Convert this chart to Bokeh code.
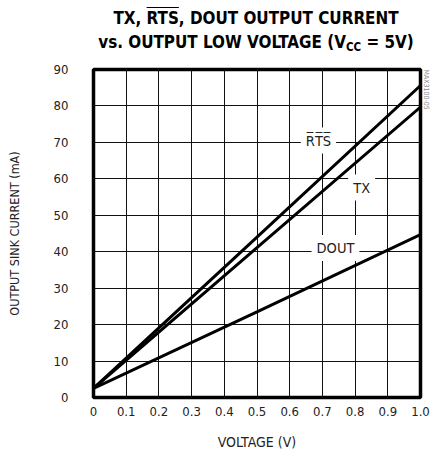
from bokeh.plotting import figure
from bokeh.models import Label, FixedTicker, Range1d, Div, Title
from bokeh.layouts import column
from bokeh.embed import file_html
from bokeh.resources import INLINE

voltage = [0.0, 0.5, 1.0]
rts_current = [2.5, 44.0, 85.6]
tx_current = [2.5, 41.1, 79.7]
dout_current = [2.5, 23.5, 44.7]

x_ticks = [0, 0.1, 0.2, 0.3, 0.4, 0.5, 0.6, 0.7, 0.8, 0.9, 1.0]
x_tick_labels = ["0", "0.1", "0.2", "0.3", "0.4", "0.5", "0.6", "0.7", "0.8", "0.9", "1.0"]
y_ticks = [0, 10, 20, 30, 40, 50, 60, 70, 80, 90]

FONT = "DejaVu Sans Condensed"
TXT = "#222222"

title_html = (
    '<div style="font-family:\'DejaVu Sans Condensed\',\'DejaVu Sans\';font-stretch:condensed;'
    'font-weight:bold;font-size:16.9px;line-height:24px;text-align:center;color:#000;'
    'padding-left:73px;padding-top:6px;box-sizing:border-box;width:439px;">'
    'TX, <span style="text-decoration:overline">RTS</span>, DOUT OUTPUT CURRENT<br>'
    'vs. OUTPUT LOW VOLTAGE (V<span style="font-size:11.5px;position:relative;top:3px">CC</span> = 5V)'
    '</div>'
)
header = Div(text=title_html, width=439, height=60, margin=0)

p = figure(width=439, height=400, x_range=Range1d(0, 1), y_range=Range1d(0, 90),
           output_backend="svg", toolbar_location=None, margin=0,
           min_border_left=93, min_border_right=19, min_border_top=9, min_border_bottom=63)

p.outline_line_color = "black"
p.outline_line_width = 3.5
p.background_fill_color = "white"

for ax in (p.xaxis[0], p.yaxis[0]):
    ax.axis_line_color = None
    ax.major_tick_line_color = None
    ax.minor_tick_line_color = None
    ax.major_tick_out = 0
    ax.major_tick_in = 0
    ax.minor_tick_out = 0
    ax.minor_tick_in = 0
    ax.major_label_text_font = FONT
    ax.major_label_text_font_size = "13px"
    ax.major_label_text_color = TXT
    ax.axis_label_text_font = FONT
    ax.axis_label_text_font_style = "normal"
    ax.axis_label_text_color = TXT

p.xaxis.axis_label_text_font_size = "14px"
p.yaxis.axis_label_text_font_size = "12.5px"
p.xaxis.ticker = FixedTicker(ticks=x_ticks)
p.xaxis.major_label_overrides = {t: l for t, l in zip(x_ticks, x_tick_labels)}
p.yaxis.ticker = FixedTicker(ticks=y_ticks)
p.xaxis.major_label_standoff = 9
p.yaxis.major_label_standoff = 25
p.xaxis.axis_label = "VOLTAGE (V)"
p.yaxis.axis_label = "OUTPUT SINK CURRENT (mA)"
p.xaxis.axis_label_standoff = 15
p.yaxis.axis_label_standoff = 29

p.xgrid.ticker = FixedTicker(ticks=x_ticks)
p.ygrid.ticker = FixedTicker(ticks=y_ticks)
for g in (p.xgrid[0], p.ygrid[0]):
    g.grid_line_color = "#111111"
    g.grid_line_width = 1

for ys in (rts_current, tx_current, dout_current):
    p.line(voltage, ys, line_color="black", line_width=3)

OV = "\u0305"
rts_txt = "R" + OV + "T" + OV + "S" + OV

def lab(x, y, text):
    l = Label(x=x, y=y, text=text, text_font=FONT, text_font_size="14.5px", text_align="center",
              text_baseline="middle", text_color=TXT, background_fill_color="white", padding=5)
    p.add_layout(l)

lab(0.688, 70.5, rts_txt)
lab(0.82, 57.6, "TX")
lab(0.74, 41, "DOUT")

wm = Title(text="MAX3100-05", text_font=FONT, text_font_size="7px", text_font_style="normal",
           text_color="#888888", align="left", standoff=2)
p.add_layout(wm, "right")

open("out.html", "w").write(file_html(column(header, p, spacing=0), INLINE))
